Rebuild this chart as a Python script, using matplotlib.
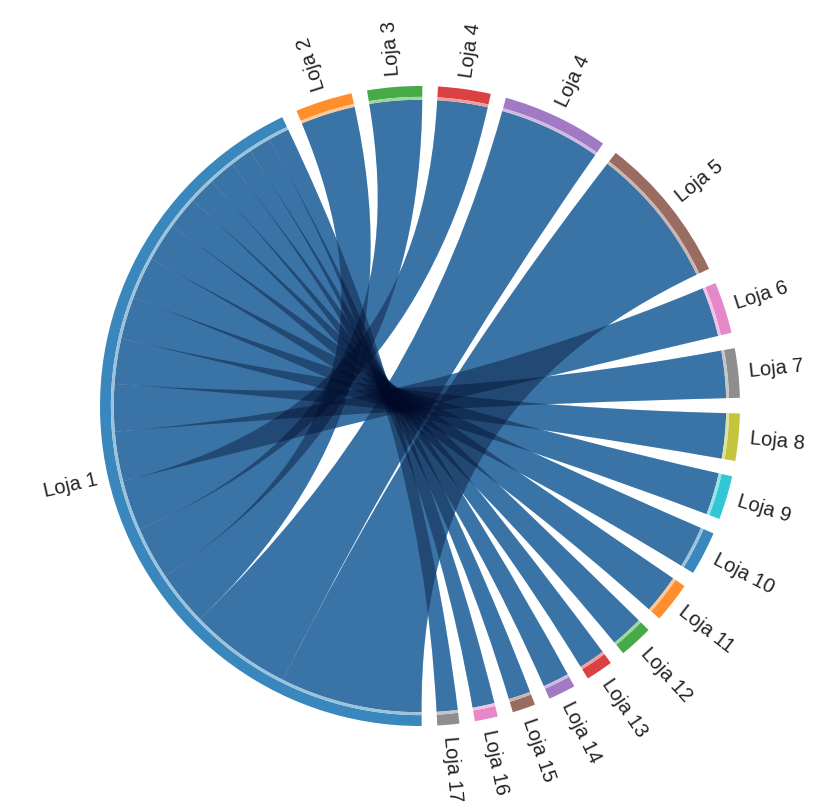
import numpy as np
import matplotlib
matplotlib.use("Agg")
import matplotlib.pyplot as plt
from matplotlib.path import Path
from matplotlib.patches import PathPatch, Wedge
import matplotlib.colors as mcolors

plt.rcParams["font.family"] = ["Liberation Sans", "DejaVu Sans"]

# ---- data -------------------------------------------------------------
hub = "Loja 1"
stores = ["Loja 2", "Loja 3", "Loja 4", "Loja 4", "Loja 5", "Loja 6",
          "Loja 7", "Loja 8", "Loja 9", "Loja 10", "Loja 11", "Loja 12",
          "Loja 13", "Loja 14", "Loja 15", "Loja 16", "Loja 17"]
flows = [104, 100, 96, 194, 270, 94, 90, 86, 80, 80, 74, 62, 50, 50, 42, 42, 40]

palette = ["#1f77b4", "#ff7f0e", "#2ca02c", "#d62728", "#9467bd",
           "#8c564b", "#e377c2", "#7f7f7f", "#bcbd22", "#17becf"]

# ---- layout -----------------------------------------------------------
GAP = 2.8           # degrees between arcs
START = 270.3       # hub arc begins here and runs clockwise
R_CHORD = 0.957     # radius where ribbons end
R_BAND_IN = 0.966
R_BAND_OUT = 1.0
CTRL = 0.30         # radius of the bezier control points

names = [hub] + stores
sizes = [sum(flows)] + list(flows)
deg_per_unit = (360 - GAP * len(names)) / sum(sizes)

arcs = []
cur = START
for s in sizes:
    hi = cur
    lo = cur - s * deg_per_unit
    arcs.append((lo, hi))
    cur = lo - GAP


def pol(r, deg):
    t = np.deg2rad(deg)
    return np.array([r * np.cos(t), r * np.sin(t)])


def arc_pts(r, a, b, n=60):
    t = np.linspace(a, b, n)
    return [pol(r, x) for x in t]


def ribbon(a1, a2, b1, b2, r=R_CHORD, rc=CTRL):
    verts, codes = [], []
    pts = arc_pts(r, a1, a2)
    verts += pts
    codes += [Path.MOVETO] + [Path.LINETO] * (len(pts) - 1)
    verts += [pol(rc, a2), pol(rc, b1), pol(r, b1)]
    codes += [Path.CURVE4] * 3
    pts = arc_pts(r, b1, b2)[1:]
    verts += pts
    codes += [Path.LINETO] * len(pts)
    verts += [pol(rc, b2), pol(rc, a1), pol(r, a1)]
    codes += [Path.CURVE4] * 3
    verts.append(pol(r, a1))
    codes.append(Path.CLOSEPOLY)
    return Path(np.array(verts), codes)


# hub segments, largest flow first, moving clockwise from START
order = sorted(range(len(flows)), key=lambda i: -flows[i])
hub_seg = {}
cur = arcs[0][1]
for i in order:
    w = flows[i] * deg_per_unit
    hub_seg[i] = (cur - w, cur)
    cur -= w

W, H = 826, 807
fig = plt.figure(figsize=(W / 100, H / 100), dpi=100)
ax = fig.add_axes([0, 0, 1, 1])
px = 320.0
cx, cy = 420.0, 406.0
ax.set_xlim(-cx / px, (W - cx) / px)
ax.set_ylim(-(H - cy) / px, cy / px)
ax.axis("off")

# ribbons: light base, then translucent dark layer so overlaps deepen
base_col = (98 / 255, 187 / 255, 250 / 255)
shade_col = (0 / 255, 10 / 255, 40 / 255)
paths = []
for i in range(len(flows)):
    h1, h2 = hub_seg[i]
    s1, s2 = arcs[i + 1]
    paths.append(ribbon(h1, h2, s1, s2))
for p in paths:
    ax.add_patch(PathPatch(p, facecolor=base_col, edgecolor="none", zorder=1))
for p in paths:
    ax.add_patch(PathPatch(p, facecolor=shade_col, edgecolor="none",
                           alpha=0.40, zorder=2))

# node arcs and labels
for k, (name, (lo, hi)) in enumerate(zip(names, arcs)):
    col = palette[k % len(palette)]
    rgb = np.array(mcolors.to_rgb(col))
    ax.add_patch(Wedge((0, 0), R_BAND_OUT, lo, hi,
                       width=R_BAND_OUT - R_BAND_IN, facecolor=col,
                       alpha=0.88, edgecolor="none", zorder=3))
    pale = rgb * 0.45 + 0.55
    ax.add_patch(Wedge((0, 0), R_BAND_IN, lo, hi,
                       width=R_BAND_IN - R_CHORD, facecolor=pale,
                       edgecolor="none", zorder=3))
    mid = (lo + hi) / 2
    m = mid % 360
    x, y = pol(1.035, mid)
    if 120 < m < 270:
        rot, ha = m - 180, "right"
    else:
        rot, ha = (m if m <= 180 else m - 360), "left"
    ax.text(x, y, name, rotation=rot, rotation_mode="anchor", ha=ha,
            va="center", fontsize=14.5, color="#222222", zorder=4)

fig.savefig("out.png", dpi=100, facecolor="white")
